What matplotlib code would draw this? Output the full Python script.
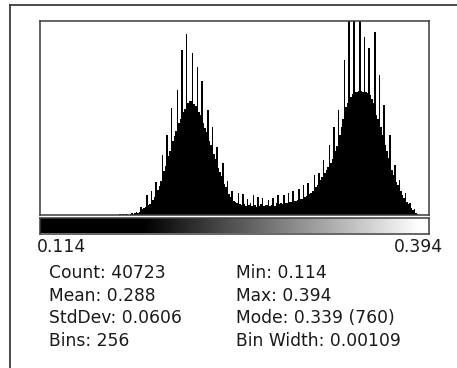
import numpy as np
import matplotlib
matplotlib.use("Agg")
import matplotlib.pyplot as plt
from matplotlib.lines import Line2D

# histogram data (ImageJ style window), 256 bins from min to max
hist_min = 0.114
hist_max = 0.394
n_bins = 256
counts = (
    [0] * 52
    + [3, 0, 4, 0, 3, 4, 0, 5, 7, 4, 6, 10, 8, 9]            # 52-65
    + [28, 21, 25, 28]                                          # 66-69
    + [70, 35, 39, 84, 53, 63, 116, 88, 102, 119]               # 70-79
    + [210, 154, 172, 280, 207, 224, 375, 259, 277, 294]        # 80-89
    + [438, 322, 336, 578, 361, 371, 634, 392, 399, 399]        # 90-99
    + [567, 389, 382, 518, 361, 350, 469, 322, 305, 291]        # 100-109
    + [368, 259, 245, 308, 214, 196, 238, 165, 151, 137]        # 110-119
    + [182, 109, 98, 119, 74, 63, 84, 49, 46, 42]               # 120-129
    + [77, 38, 35, 74, 39, 32, 56, 35, 42, 30]                  # 130-139
    + [70, 35, 28, 63, 32, 39, 60, 32, 35, 35]                  # 140-149
    + [53, 32, 35, 60, 32, 42, 70, 39, 42, 39]                  # 150-159
    + [70, 42, 42, 77, 46, 46, 84, 49, 49, 53]                  # 160-169
    + [91, 56, 56, 105, 63, 67, 112, 74, 77, 84]                # 170-179
    + [140, 98, 105, 147, 123, 133, 193, 147, 158, 168]         # 180-189
    + [245, 182, 196, 308, 224, 242, 368, 280, 308, 336]        # 190-199
    + [543, 378, 392, 700, 413, 424, 760, 431, 431, 434]        # 200-209
    + [720, 434, 431, 623, 431, 427, 585, 420, 406, 392]        # 210-219
    + [641, 350, 336, 490, 308, 280, 385, 245, 224, 200]        # 220-229
    + [280, 158, 140, 175, 116, 105, 123, 84, 70, 60]           # 230-239
    + [77, 46, 39, 42, 25, 18, 21, 7, 4, 0]                     # 240-249
    + [0] * 6
)
y_top = 680          # display scale (the tallest spikes get clipped)
lut_lo = 0.188       # display range of the LUT bar
lut_hi = 0.388

stat_left = ["Count: 40723", "Mean: 0.288", "StdDev: 0.0606", "Bins: 256"]
stat_right = ["Min: 0.114", "Max: 0.394", "Mode: 0.339 (760)", "Bin Width: 0.00109"]

W, H = 457, 368
fig = plt.figure(figsize=(W / 100, H / 100), dpi=100)
fig.patch.set_facecolor("white")

def fx(px):
    return px / W

def fy(py):
    return 1 - py / H

frame_col = "#3c3c3c"

# outer window frame (left and top edges visible)
fig.add_artist(Line2D([fx(9.5), fx(9.5)], [0, fy(4.5)], color=frame_col, lw=1.3))
fig.add_artist(Line2D([fx(9.5), 1], [fy(4.5), fy(4.5)], color=frame_col, lw=1.3))

# histogram
ax = fig.add_axes([fx(40), fy(215), fx(389), 194 / H])
edges = np.linspace(hist_min, hist_max, n_bins + 1)
bw = edges[1] - edges[0]
ax.bar(edges[:-1], counts, width=bw, align="edge", color="black", linewidth=0)
ax.set_xlim(hist_min, hist_max)
ax.set_ylim(0, y_top)
ax.set_xticks([])
ax.set_yticks([])
for s in ax.spines.values():
    s.set_color(frame_col)
    s.set_linewidth(1.1)

# LUT bar
cax = fig.add_axes([fx(40), fy(233.5), fx(389), 16 / H])
grad = np.linspace(hist_min, hist_max, 512).reshape(1, -1)
cax.imshow(grad, cmap="gray", vmin=lut_lo, vmax=lut_hi, aspect="auto",
           extent=[hist_min, hist_max, 0, 1])
cax.set_xticks([])
cax.set_yticks([])
for s in cax.spines.values():
    s.set_color(frame_col)
    s.set_linewidth(1.1)

txt_col = "#1a1a1a"
fs = 12.3
fig.text(fx(37), fy(247), f"{hist_min:.3f}", fontsize=fs, color=txt_col,
         ha="left", va="center")
fig.text(fx(443), fy(247), f"{hist_max:.3f}", fontsize=fs, color=txt_col,
         ha="right", va="center")

rows_y = [273, 296, 318, 341]
for i in range(4):
    fig.text(fx(49), fy(rows_y[i]), stat_left[i], fontsize=fs, color=txt_col,
             ha="left", va="center")
    fig.text(fx(236), fy(rows_y[i]), stat_right[i], fontsize=fs, color=txt_col,
             ha="left", va="center")

fig.savefig("out.png", dpi=100)
